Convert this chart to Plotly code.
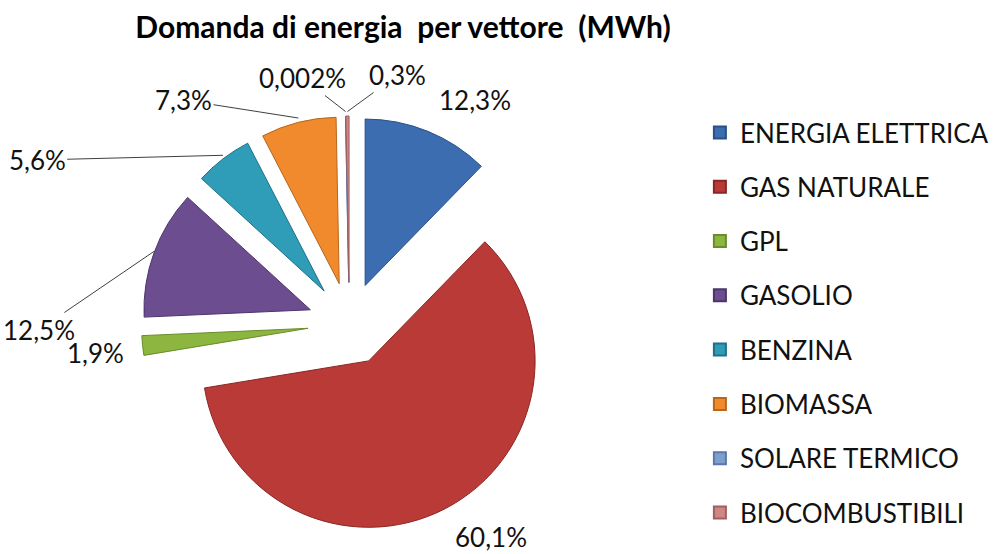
import math
import plotly.graph_objects as go

# ---- data ----
categories = ["ENERGIA ELETTRICA", "GAS NATURALE", "GPL", "GASOLIO", "BENZINA",
              "BIOMASSA", "SOLARE TERMICO", "BIOCOMBUSTIBILI"]
shares = [12.3, 60.1, 1.9, 12.5, 5.6, 7.3, 0.002, 0.3]

# ---- styles ----
colors = ["#3b6db0", "#b93a37", "#8cb63f", "#6b4d90", "#2f9cb8", "#f08a2c", "#7f9fd0", "#cf8786"]
edges = ["#2a5088", "#8a2623", "#6a8c2a", "#4c3569", "#1f7088", "#b8661c", "#5a78a8", "#a05e5d"]
W, H = 994, 554
CX, CY, R, PULL = 357, 324, 170, 0.25
# label placement (pixels) and whether a leader line is drawn
label_pos = [(485, 100), (502, 537), (98, 353), (42, 330), (42, 160), (190, 100), (310, 78), (405, 75)]
leader = [False, False, False, True, True, True, True, True]
FONT = "Lato, 'Open Sans', sans-serif"

half = R * (1 + PULL)
dom_x = [(CX - half) / W, (CX + half) / W]
dom_y = [1 - (CY + half) / H, 1 - (CY - half) / H]

fig = go.Figure()
fig.add_trace(go.Pie(
    labels=categories, values=shares, sort=False, direction="clockwise", rotation=0,
    pull=[PULL] * len(shares), textinfo="none", hoverinfo="label+percent",
    marker=dict(colors=colors, line=dict(color=edges, width=1)),
    domain=dict(x=dom_x, y=dom_y), showlegend=False,
))

# legend entries
for cat, col, ed in zip(categories, colors, edges):
    fig.add_trace(go.Scatter(
        x=[None], y=[None], mode="markers", name=cat, legendgroup=cat,
        marker=dict(symbol="square", size=15, color=col, line=dict(color=ed, width=1)),
    ))

# percentage labels with leader lines
total = sum(shares)
cum = 0.0
annotations = []
for v, (lx, ly), lead in zip(shares, label_pos, leader):
    mid = (cum + v / 2) / total
    cum += v
    ang = 2 * math.pi * mid
    tx = CX + (R * PULL + R) * math.sin(ang)
    ty = CY - (R * PULL + R) * math.cos(ang)
    txt = (("%g" % v).replace(".", ",")) + "%"
    if lead:
        annotations.append(dict(
            x=tx / W, y=1 - ty / H, xref="paper", yref="paper",
            ax=lx - tx, ay=ly - ty, axref="pixel", ayref="pixel",
            text=txt, showarrow=True, arrowhead=0, arrowwidth=1, arrowcolor="#404040",
            font=dict(family=FONT, size=26, color="#111111"),
        ))
    else:
        annotations.append(dict(
            x=lx / W, y=1 - ly / H, xref="paper", yref="paper",
            xanchor="center", yanchor="middle", text=txt, showarrow=False,
            font=dict(family=FONT, size=26, color="#111111"),
        ))

fig.update_layout(
    width=W, height=H, margin=dict(l=0, r=0, t=0, b=0),
    paper_bgcolor="white", plot_bgcolor="white",
    title=dict(text="Domanda di energia\u00a0 per vettore\u00a0 (MWh)", x=403 / W, xanchor="center",
               y=1 - 27 / H, yanchor="middle",
               font=dict(family=FONT, size=30, color="#000000", weight="bold")),
    xaxis=dict(visible=False), yaxis=dict(visible=False),
    legend=dict(x=715 / W, y=1 - 109 / H, xanchor="left", yanchor="top",
                font=dict(family=FONT, size=26, color="#111111"),
                tracegroupgap=17.5, traceorder="grouped", itemsizing="constant",
                bgcolor="rgba(0,0,0,0)"),
    annotations=annotations,
    separators=",.",
)

fig.write_html("out.html", config={"displayModeBar": False},
               post_script="document.body.style.margin='0';")
